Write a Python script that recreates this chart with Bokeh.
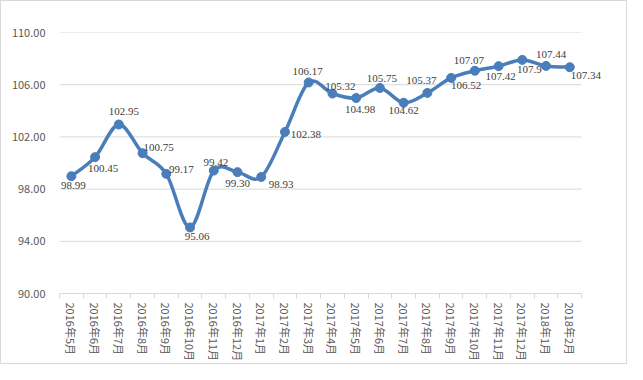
import math
from bokeh.plotting import figure
from bokeh.models import FixedTicker, ColumnDataSource, Range1d, LabelSet, CustomJSTickFormatter
from bokeh.embed import file_html
from bokeh.resources import INLINE

months = ["2016年5月", "2016年6月", "2016年7月", "2016年8月", "2016年9月", "2016年10月",
          "2016年11月", "2016年12月", "2017年1月", "2017年2月", "2017年3月", "2017年4月",
          "2017年5月", "2017年6月", "2017年7月", "2017年8月", "2017年9月", "2017年10月",
          "2017年11月", "2017年12月", "2018年1月", "2018年2月"]
values = [98.99, 100.45, 102.95, 100.75, 99.17, 95.06, 99.42, 99.30, 98.93, 102.38, 106.17,
          105.32, 104.98, 105.75, 104.62, 105.37, 106.52, 107.07, 107.42, 107.9, 107.44, 107.34]
value_labels = ["98.99", "100.45", "102.95", "100.75", "99.17", "95.06", "99.42", "99.30",
                "98.93", "102.38", "106.17", "105.32", "104.98", "105.75", "104.62", "105.37",
                "106.52", "107.07", "107.42", "107.9", "107.44", "107.34"]
y_ticks = [90, 94, 98, 102, 106, 110]

# label placement offsets (screen px, relative to the point; dy positive = up)
lbl_dx = [2, 8, 5, 16, 15, 7, 2, 0, 20, 21, -1, 8, 4, 2, 0, -6, 15, -6, 2, 7, 5, 16]
lbl_dy = [-9, -11, 13, 6, 4, -9, 8, -11, -8, -3, 11, 7, -11, 9, -8, 12, -8, 10, -10, -10, 11, -8]

FONT = "Noto Sans CJK SC"
LINE = "#4a7ebb"
GRID = "#d9d9d9"
TXT = "#595959"

n = len(values)
xs = list(range(n))
x_lo, x_hi = -0.5, n - 0.5
extra = 1.3  # blank room to the right so the last data label is not clipped

p = figure(width=627, height=364, output_backend="svg", toolbar_location=None,
           x_range=Range1d(x_lo, x_hi + extra), y_range=Range1d(90, 110),
           min_border_left=58, min_border_right=16, min_border_top=31, min_border_bottom=72)
p.outline_line_color = None
p.background_fill_color = "white"
p.border_fill_color = "white"
p.styles = {"border": "1px solid #d9d9d9"}

# y axis
p.yaxis.ticker = FixedTicker(ticks=y_ticks)
p.yaxis.formatter = CustomJSTickFormatter(code="return tick.toFixed(2);")
p.yaxis.axis_line_color = None
p.yaxis.major_tick_line_color = None
p.yaxis.minor_tick_line_color = None
p.yaxis.major_label_text_font = FONT
p.yaxis.major_label_text_font_size = "11px"
p.yaxis.major_label_text_color = TXT
p.yaxis.major_label_standoff = 8
p.ygrid.grid_line_color = None
p.xgrid.grid_line_color = None
p.segment(x0=[x_lo] * len(y_ticks), x1=[x_hi] * len(y_ticks), y0=y_ticks, y1=y_ticks,
          line_color=GRID, line_width=1)

# x axis
p.xaxis.ticker = FixedTicker(ticks=xs, minor_ticks=[i - 0.5 for i in range(n + 1)])
p.xaxis.bounds = (x_lo, x_hi)
p.xaxis.major_label_overrides = {i: m for i, m in enumerate(months)}
p.xaxis.major_label_orientation = -math.pi / 2
p.xaxis.major_label_text_font = FONT
p.xaxis.major_label_text_font_size = "11px"
p.xaxis.major_label_text_color = TXT
p.xaxis.major_label_standoff = 3
p.xaxis.axis_line_color = GRID
p.xaxis.major_tick_line_color = None
p.xaxis.minor_tick_line_color = GRID
p.xaxis.minor_tick_out = 5
p.xaxis.minor_tick_in = 0

# smoothed line (Catmull-Rom -> Bezier) computed from the data points
x0, y0, x1, y1, cx0, cy0, cx1, cy1 = [], [], [], [], [], [], [], []
for i in range(n - 1):
    xp, yp = (xs[i - 1], values[i - 1]) if i > 0 else (xs[i], values[i])
    xn, yn = (xs[i + 2], values[i + 2]) if i + 2 < n else (xs[i + 1], values[i + 1])
    x0.append(xs[i]); y0.append(values[i])
    x1.append(xs[i + 1]); y1.append(values[i + 1])
    cx0.append(xs[i] + (xs[i + 1] - xp) / 6); cy0.append(values[i] + (values[i + 1] - yp) / 6)
    cx1.append(xs[i + 1] - (xn - xs[i]) / 6); cy1.append(values[i + 1] - (yn - values[i]) / 6)
p.bezier(x0=x0, y0=y0, x1=x1, y1=y1, cx0=cx0, cy0=cy0, cx1=cx1, cy1=cy1,
         line_color=LINE, line_width=3.5)

src = ColumnDataSource(dict(x=xs, y=values, t=value_labels, dx=lbl_dx, dy=lbl_dy))
p.scatter("x", "y", source=src, size=9, fill_color=LINE, line_color=LINE)
labels = LabelSet(x="x", y="y", text="t", source=src, x_offset="dx", y_offset="dy",
                  text_align="center", text_baseline="middle", text_font=FONT,
                  text_font_size="11px", text_color="#404040")
p.add_layout(labels)

open("out.html", "w").write(file_html(p, INLINE))
